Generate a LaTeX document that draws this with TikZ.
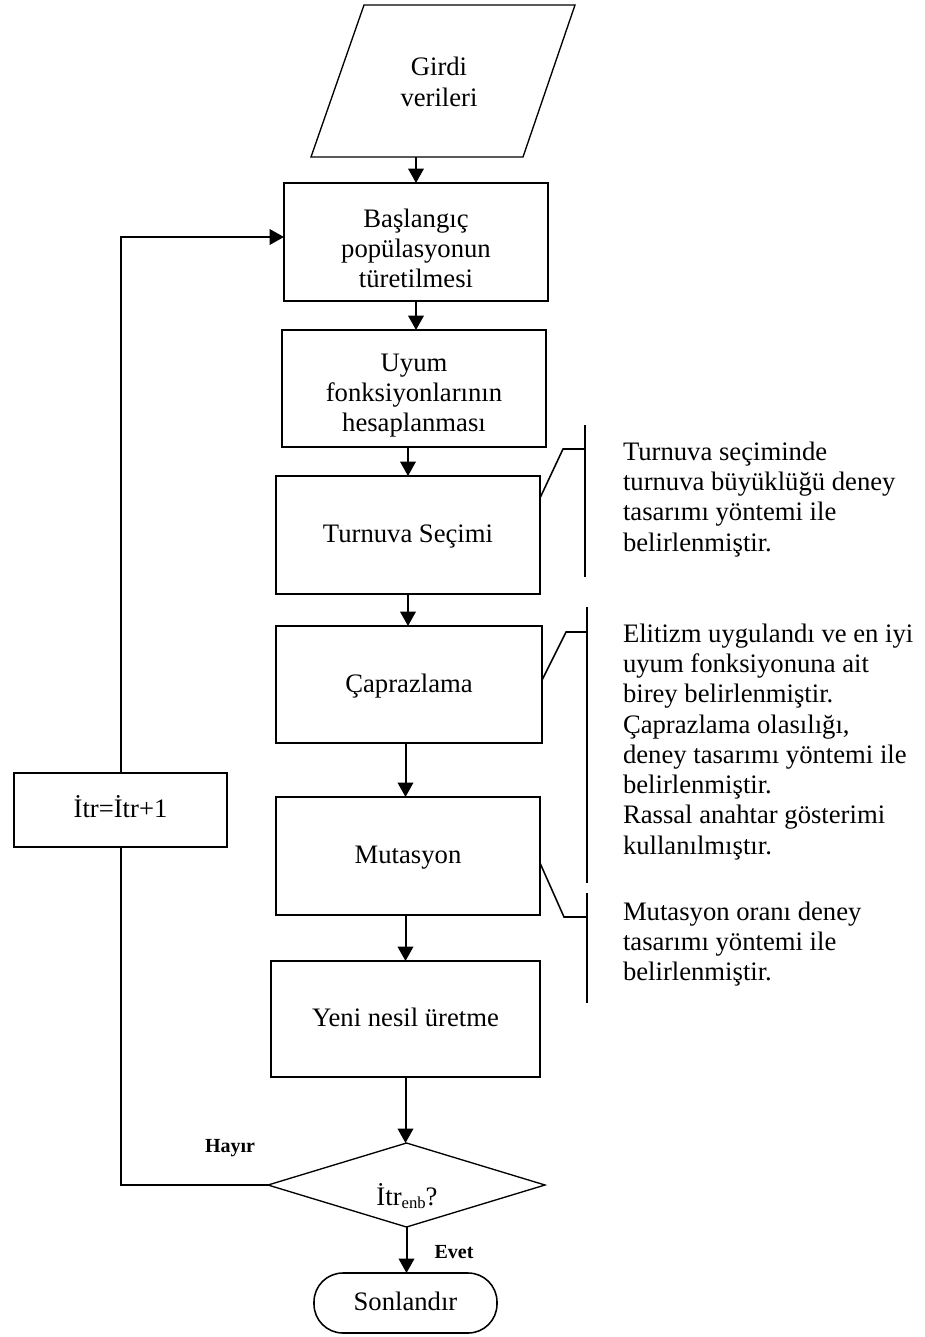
\documentclass[tikz,border=0pt]{standalone}
\usepackage{fontspec}
\setmainfont{Liberation Serif}
\usetikzlibrary{arrows.meta,shapes.geometric,calc}

% extra height on the first line of multi-line boxes
\newcommand\firstline{\rule{0pt}{14pt}}

\begin{document}
\begin{tikzpicture}[x=0.45pt,y=-0.45pt,
  every node/.style={inner sep=0pt, outer sep=0pt},
  txt/.style={font=\fontsize{12}{13.4}\selectfont, align=center},
  proc/.style={draw, line width=0.6pt, txt},
  wh/.style 2 args={minimum width=#1*0.45pt, minimum height=#2*0.45pt},
  one/.style={text height=9pt, text depth=2pt},
  conn/.style={line width=0.9pt},
  arr/.style={conn, -{Triangle[length=6.5pt,width=7pt]}},
  note/.style={font=\fontsize{12}{13.6}\selectfont, align=left, anchor=north west},
  noteline/.style={line width=0.9pt},
  brace/.style={line width=0.7pt},
  lbl/.style={font=\fontsize{9}{10}\selectfont\bfseries, anchor=base}
]
\useasboundingbox (0,0) rectangle (925,1337);

% input parallelogram
\coordinate (p1) at (364,5);
\coordinate (p2) at (575,5);
\coordinate (p3) at (523,157);
\coordinate (p4) at (311,157);
\draw[line width=0.6pt] (p1) -- (p2) -- (p3) -- (p4) -- cycle;
\node[txt, font=\fontsize{12}{14}\selectfont] (inp) at (439,81.5) {Girdi\\verileri};

% process steps
\node[proc, wh={264}{118}] (b1) at (416,242) {\firstline Başlangıç\\popülasyonun\\türetilmesi};
\node[proc, wh={264}{117}] (b2) at (414,388.5) {\firstline Uyum\\fonksiyonlarının\\hesaplanması};
\node[proc, one, wh={264}{118}] (b3) at (408,535) {Turnuva Seçimi};
\node[proc, one, wh={266}{117}] (b4) at (409,684.5) {Çaprazlama};
\node[proc, one, wh={264}{118}] (b5) at (408,856) {Mutasyon};
\node[proc, one, wh={269}{116}, line width=0.9pt] (b6) at (405.5,1019) {Yeni nesil üretme};

% decision
\node[draw, diamond, aspect=3.3, wh={277}{84}, line width=0.6pt] (d) at (406.5,1185) {};
\node[txt, anchor=base] (dt) at (407,1205) {İtr\raisebox{-1.5pt}{\fontsize{7.5}{8}\selectfont enb}?};

% end terminal
\node[proc, one, rounded corners=13pt, wh={183}{60}, line width=0.7pt] (end) at (405.5,1303) {Sonlandır};

% iteration counter
\node[proc, one, wh={213}{74}] (itr) at (120.5,810) {İtr=İtr+1};

% main flow
\draw[arr] (b1.north |- p4) -- (b1.north);
\draw[arr] (b1.south) -- (b1.south |- b2.north);
\draw[arr] (b3.north |- b2.south) -- (b3.north);
\draw[arr] (b3.south) -- (b3.south |- b4.north);
\draw[arr] (b6.north |- b4.south) -- (b6.north |- b5.north);
\draw[arr] (b6.north |- b5.south) -- (b6.north);
\draw[arr] (b6.south) -- (b6.south |- d.north);
\draw[arr] (d.south) -- (d.south |- end.north);

% loop back
\draw[conn] (d.west) -| (itr.south);
\draw[arr] (itr.north) |- ([yshift=2.25pt]b1.west);

\node[lbl] (no) at (230,1152) {Hayır};
\node[lbl] (yes) at (454,1258) {Evet};

% annotations
\draw[noteline] (585,425) -- (585,577);
\draw[brace] ($(b3.north east)+(0,22)$) -- (563,449) -- (585,449);
\node[note] (n1) at (623,442) {Turnuva seçiminde\\turnuva büyüklüğü deney\\tasarımı yöntemi ile\\belirlenmiştir.};

\draw[noteline] (587,607) -- (587,883);
\draw[brace] ($(b4.north east)+(0,54)$) -- (566,632) -- (587,632);
\node[note] (n2) at (623,624) {Elitizm uygulandı ve en iyi\\uyum fonksiyonuna ait\\birey belirlenmiştir.\\Çaprazlama olasılığı,\\deney tasarımı yöntemi ile\\belirlenmiştir.\\Rassal anahtar gösterimi\\kullanılmıştır.};

\draw[noteline] (587,893) -- (587,1003);
\draw[brace] ($(b5.north east)+(0,66)$) -- (564,917) -- (587,917);
\node[note] (n3) at (623,902) {Mutasyon oranı deney\\tasarımı yöntemi ile\\belirlenmiştir.};
\end{tikzpicture}
\end{document}
